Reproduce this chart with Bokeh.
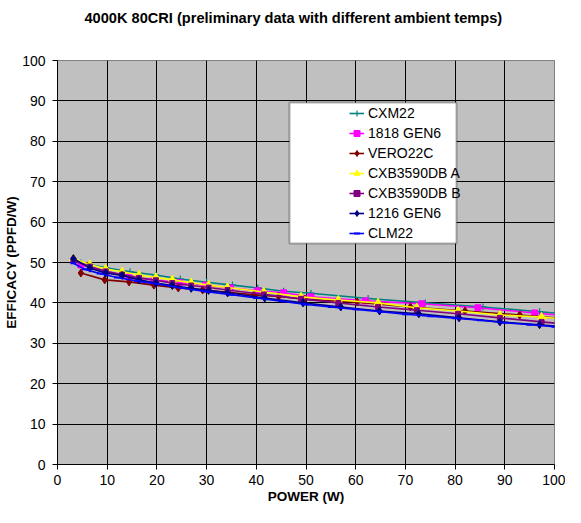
from bokeh.plotting import figure
from bokeh.models import Legend, LegendItem, BoxAnnotation, Title, FixedTicker, Range1d
from bokeh.embed import file_html
from bokeh.resources import INLINE

# ---- data ----
title_text = "4000K 80CRI (preliminary data with different ambient temps)"
x_label = "POWER (W)"
y_label = "EFFICACY (PPFD/W)"
ticks_x = [0, 10, 20, 30, 40, 50, 60, 70, 80, 90, 100]
ticks_y = [0, 10, 20, 30, 40, 50, 60, 70, 80, 90, 100]

cxm22_w = [4.7, 9.7, 14.6, 19.8, 24.7, 30.0, 35.2, 40.3, 45.5, 51.0, 62.5, 74.0, 85.6, 97.0, 108.0]
cxm22_e = [49.9, 48.7, 47.7, 46.9, 45.9, 45.1, 44.4, 43.7, 42.9, 42.4, 41.1, 40.0, 39.0, 37.8, 36.7]

gen1818_w = [4.7, 9.7, 14.4, 19.4, 24.6, 29.8, 34.8, 40.3, 45.5, 51.0, 62.0, 73.3, 84.6, 96.0, 107.0]
gen1818_e = [49.4, 47.8, 46.4, 45.7, 45.0, 44.4, 43.7, 43.0, 42.5, 41.5, 40.5, 39.8, 38.8, 37.5, 36.3]

vero22c_w = [4.7, 9.5, 14.4, 19.4, 24.3, 29.2, 34.3, 39.5, 44.5, 49.8, 60.3, 71.0, 82.0, 93.0, 104.0]
vero22c_e = [47.4, 45.7, 45.2, 44.4, 43.7, 43.2, 42.6, 42.0, 41.6, 40.9, 40.2, 39.0, 38.0, 37.0, 35.9]

cxba_w = [3.2, 6.5, 9.7, 13.0, 16.4, 19.8, 23.1, 26.9, 30.4, 34.2, 41.5, 49.0, 56.5, 64.5, 72.3, 80.6, 89.0, 97.4, 106.0]
cxba_e = [51.0, 49.5, 48.4, 47.7, 46.9, 46.3, 45.7, 45.0, 44.4, 43.8, 42.7, 41.5, 40.7, 40.0, 38.8, 38.0, 37.0, 36.5, 35.5]

cxbb_w = [3.2, 6.5, 9.7, 13.0, 16.4, 19.8, 23.1, 26.9, 30.4, 34.2, 41.5, 49.0, 56.5, 64.5, 72.3, 80.6, 89.0, 97.4, 106.0]
cxbb_e = [50.5, 49.0, 47.8, 47.0, 46.2, 45.6, 44.9, 44.3, 43.8, 43.2, 42.1, 41.0, 40.0, 39.0, 38.2, 37.3, 36.3, 35.3, 34.3]

gen1216_w = [3.2, 6.5, 9.7, 13.0, 16.4, 19.8, 23.1, 26.9, 30.4, 34.2, 41.7, 49.4, 57.0, 64.8, 72.7, 80.8, 89.0, 97.0, 106.0]
gen1216_e = [51.0, 48.6, 47.4, 46.8, 45.7, 44.9, 44.3, 43.6, 43.1, 42.5, 41.2, 40.0, 39.0, 38.0, 37.3, 36.3, 35.3, 34.6, 33.7]

clm22_w = [3.2, 5.5, 8.5, 12.0, 16.0, 20.0, 25.0, 30.0, 35.0, 40.0, 45.0, 50.0, 55.0, 60.0, 65.0, 70.0, 75.0, 80.0, 85.0, 90.0, 95.0, 100.0, 105.0]
clm22_e = [49.8, 48.3, 47.3, 46.3, 45.4, 44.7, 43.7, 42.8, 42.0, 41.2, 40.4, 39.6, 39.0, 38.4, 37.8, 37.2, 36.7, 36.2, 35.7, 35.1, 34.6, 34.1, 33.6]

series = [
    ("CXM22", cxm22_w, cxm22_e, "#008080", "cross", 7),
    ("1818 GEN6", gen1818_w, gen1818_e, "#FF00FF", "square", 6),
    ("VERO22C", vero22c_w, vero22c_e, "#800000", "diamond", 8),
    ("CXB3590DB A", cxba_w, cxba_e, "#FFFF00", "triangle", 8),
    ("CXB3590DB B", cxbb_w, cxbb_e, "#800080", "square", 5),
    ("1216 GEN6", gen1216_w, gen1216_e, "#000080", "diamond", 8),
    ("CLM22", clm22_w, clm22_e, "#0000FF", "dash", 6),
]

FONT = "Liberation Sans"

p = figure(width=565, height=507, output_backend="svg", toolbar_location=None, title=None,
           x_range=Range1d(0, 100), y_range=Range1d(0, 100),
           min_border_left=57, min_border_right=11, min_border_top=60, min_border_bottom=43)
p.border_fill_color = "#FFFFFF"
p.background_fill_color = "#C0C0C0"
p.outline_line_color = "#808080"
p.outline_line_width = 1

# spacer between the frame and the title (stacked outward from the frame)
p.add_layout(Title(text=" ", text_font=FONT, text_font_size="14.6px", standoff=15), "above")
p.add_layout(Title(text=title_text, align="left", offset=27, vertical_align="top", standoff=0,
                   text_font=FONT, text_font_size="14.6px", text_font_style="bold",
                   text_color="#000000"), "above")

for ax, ticks in ((p.xaxis[0], ticks_x), (p.yaxis[0], ticks_y)):
    ax.ticker = FixedTicker(ticks=ticks)
    ax.axis_line_color = "#000000"
    ax.major_tick_line_color = "#000000"
    ax.major_tick_out = 5
    ax.major_tick_in = 0
    ax.minor_tick_line_color = None
    ax.major_label_text_font = FONT
    ax.major_label_text_font_size = "14px"
    ax.major_label_text_color = "#000000"
    ax.axis_label_text_font = FONT
    ax.axis_label_text_font_size = "13.5px"
    ax.axis_label_text_font_style = "bold"
    ax.axis_label_text_color = "#000000"

p.xaxis.axis_label = x_label
p.yaxis.axis_label = y_label
p.xaxis.major_label_standoff = 5
p.xaxis.axis_label_standoff = 1
p.yaxis.major_label_standoff = 7
p.yaxis.axis_label_standoff = 0

p.xgrid.ticker = FixedTicker(ticks=ticks_x)
p.ygrid.ticker = FixedTicker(ticks=ticks_y)
p.grid.grid_line_color = "#000000"
p.grid.grid_line_width = 1
p.grid.grid_line_alpha = 1

items = []
for name, xs, ys, color, marker, size in series:
    ln = p.line(xs, ys, line_color=color, line_width=1.6)
    if marker == "cross":
        mk = p.scatter(xs, ys, marker="cross", size=size, line_color=color, line_width=1.2)
    elif marker == "dash":
        mk = p.scatter(xs, ys, marker="dash", size=size, line_color=color, line_width=2)
    else:
        mk = p.scatter(xs, ys, marker=marker, size=size, fill_color=color, line_color=color)
    items.append(LegendItem(label=name, renderers=[ln, mk]))

box = BoxAnnotation(left=289, right=456, top=102, bottom=243,
                    left_units="canvas", right_units="canvas",
                    top_units="canvas", bottom_units="canvas",
                    fill_color="#FFFFFF", fill_alpha=1, line_color="#000000", line_width=2)
p.add_layout(box)

legend = Legend(items=items, location=(292, 221), margin=0, padding=0, spacing=0,
                glyph_width=15, glyph_height=20, label_height=20, label_standoff=4,
                label_text_font=FONT, label_text_font_size="14px", label_text_color="#000000",
                background_fill_alpha=0, border_line_alpha=0)
p.add_layout(legend, "center")

open("out.html", "w").write(file_html(p, INLINE))
